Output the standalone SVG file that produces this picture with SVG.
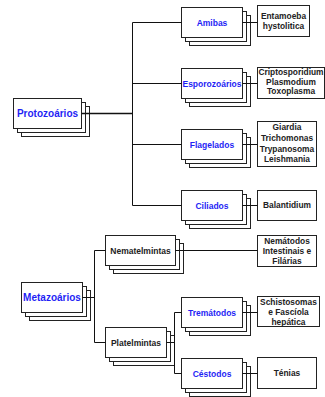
<svg xmlns="http://www.w3.org/2000/svg" width="325" height="397" viewBox="0 0 325 397">
<defs>
<style>
rect{fill:#fff;stroke:#222;stroke-width:1}
.c path{fill:none;stroke:#111;stroke-width:1}
text{font-family:"Liberation Sans",Arial,sans-serif;font-weight:bold;text-anchor:middle}
.m{font-size:10px;fill:#1f1ff5}
.s{font-size:8.5px;fill:#1f1ff5}
.k{font-size:8.5px;fill:#222}
.l{font-size:8.4px;fill:#222}
</style>
</defs>
<rect width="325" height="397" style="fill:#fff;stroke:none"/>

<g id="protozoarios">
<rect x="21.5" y="106.5" width="68" height="30"/><rect x="17.5" y="102.5" width="68" height="30"/><rect x="13.5" y="98.5" width="68" height="30"/>
<text class="m" x="47.5" y="117.1">Protozoários</text>
</g>
<g id="amibas">
<rect x="189.5" y="15.5" width="61" height="30"/><rect x="185.5" y="11.5" width="61" height="30"/><rect x="181.5" y="7.5" width="61" height="30"/>
<text class="s" x="212" y="25.5">Amibas</text>
</g>
<g id="esporozoarios">
<rect x="189.5" y="76.5" width="61" height="30"/><rect x="185.5" y="72.5" width="61" height="30"/><rect x="181.5" y="68.5" width="61" height="30"/>
<text class="s" x="212" y="86.5">Esporozoários</text>
</g>
<g id="flagelados">
<rect x="189.5" y="137.5" width="61" height="30"/><rect x="185.5" y="133.5" width="61" height="30"/><rect x="181.5" y="129.5" width="61" height="30"/>
<text class="s" x="212" y="147.5">Flagelados</text>
</g>
<g id="ciliados">
<rect x="189.5" y="198.5" width="61" height="30"/><rect x="185.5" y="194.5" width="61" height="30"/><rect x="181.5" y="190.5" width="61" height="30"/>
<text class="s" x="212" y="208.5">Ciliados</text>
</g>

<g id="entamoeba">
<rect x="257.5" y="5.5" width="52" height="31"/>
<text class="l" x="283.5" y="18.6">Entamoeba</text>
<text class="l" x="283.5" y="29.4">hystolitica</text>
</g>
<g id="cripto">
<rect x="257.5" y="67.5" width="67" height="31"/>
<text class="l" x="291" y="75">Criptosporidium</text>
<text class="l" x="291" y="84.6">Plasmodium</text>
<text class="l" x="291" y="94.4">Toxoplasma</text>
</g>
<g id="giardia">
<rect x="257.5" y="121.5" width="59" height="45"/>
<text class="l" x="287" y="130.3">Giardia</text>
<text class="l" x="287" y="140.9">Trichomonas</text>
<text class="l" x="287" y="151.5">Trypanosoma</text>
<text class="l" x="287" y="162">Leishmania</text>
</g>
<g id="balantidium">
<rect x="257.5" y="190.5" width="59" height="30"/>
<text class="l" x="287" y="208.4">Balantidium</text>
</g>

<g id="metazoarios">
<rect x="29.5" y="290.5" width="61" height="30"/><rect x="25.5" y="286.5" width="61" height="30"/><rect x="21.5" y="282.5" width="61" height="30"/>
<text class="m" x="52" y="301.1">Metazoários</text>
</g>
<g id="nematelmintas">
<rect x="113.5" y="243.5" width="70" height="30"/><rect x="109.5" y="239.5" width="70" height="30"/><rect x="105.5" y="235.5" width="70" height="30"/>
<text class="k" x="140.5" y="253.5">Nematelmintas</text>
</g>
<g id="platelmintas">
<rect x="113.5" y="335.5" width="61" height="30"/><rect x="109.5" y="331.5" width="61" height="30"/><rect x="105.5" y="327.5" width="61" height="30"/>
<text class="k" x="136" y="345.5">Platelmintas</text>
</g>
<g id="trematodos">
<rect x="189.5" y="305.5" width="61" height="30"/><rect x="185.5" y="301.5" width="61" height="30"/><rect x="181.5" y="297.5" width="61" height="30"/>
<text class="s" x="212" y="315.5">Tremátodos</text>
</g>
<g id="cestodos">
<rect x="189.5" y="366.5" width="61" height="30"/><rect x="185.5" y="362.5" width="61" height="30"/><rect x="181.5" y="358.5" width="61" height="30"/>
<text class="s" x="212" y="376.5">Céstodos</text>
</g>

<g id="nematodos">
<rect x="257.5" y="235.5" width="59" height="31"/>
<text class="l" x="287" y="244.4">Nemátodos</text>
<text class="l" x="287" y="254.4">Intestinais e</text>
<text class="l" x="287" y="264.4">Filárias</text>
</g>
<g id="schistosomas">
<rect x="257.5" y="296.5" width="62" height="30"/>
<text class="l" x="288.5" y="304.6">Schistosomas</text>
<text class="l" x="288.5" y="315">e Fascíola</text>
<text class="l" x="288.5" y="324.6">hepática</text>
</g>
<g id="tenias">
<rect x="257.5" y="357.5" width="59" height="31"/>
<text class="l" x="287" y="375.9">Ténias</text>
</g>

<g id="connectors" class="c">
<path d="M81.5 113.5H132.5" style="stroke-width:1.6"/>
<path d="M132.5 22.5V205.5M132.5 22.5H181.5M132.5 83.5H181.5M132.5 144.5H181.5M132.5 205.5H181.5"/>
<path d="M242.5 22.5H257.5M242.5 83.5H257.5M242.5 144.5H257.5M242.5 205.5H257.5"/>
<path d="M82.5 297.5H94.5M94.5 250.5V342.5M94.5 250.5H105.5M94.5 342.5H105.5"/>
<path d="M175.5 250.5H257.5"/>
<path d="M166.5 342.5H174.5M174.5 312.5V373.5M174.5 312.5H181.5M174.5 373.5H181.5"/>
<path d="M242.5 312.5H257.5M242.5 373.5H257.5"/>
</g>
</svg>
